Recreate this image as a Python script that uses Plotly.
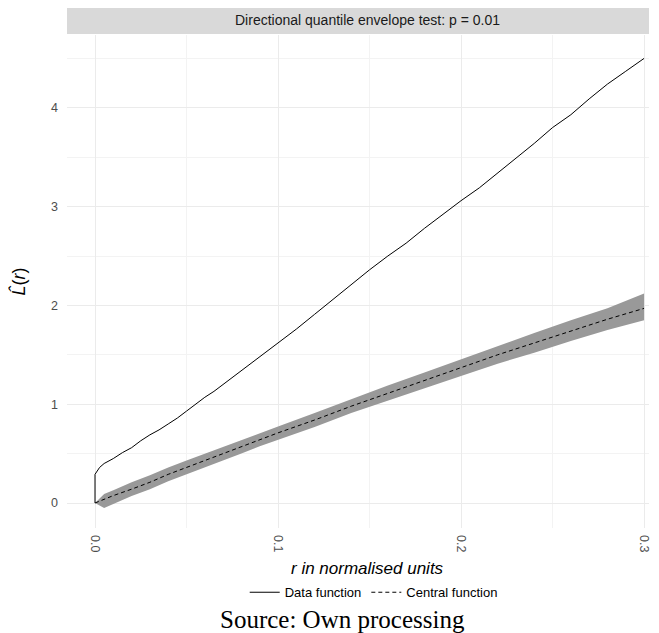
import plotly.graph_objects as go

# ---- data ----
r_data = [0, 0, 0.0025, 0.005, 0.01, 0.015, 0.02, 0.025, 0.03, 0.035, 0.04, 0.045,
          0.05, 0.055, 0.06, 0.065, 0.07, 0.075, 0.08, 0.085, 0.09, 0.095, 0.10,
          0.11, 0.12, 0.13, 0.14, 0.15, 0.16, 0.17, 0.18, 0.19, 0.20, 0.21, 0.22,
          0.23, 0.24, 0.25, 0.26, 0.27, 0.28, 0.29, 0.30]
L_data = [0, 0.29, 0.36, 0.40, 0.45, 0.51, 0.56, 0.63, 0.69, 0.74, 0.80, 0.86,
          0.93, 1.00, 1.07, 1.13, 1.20, 1.27, 1.34, 1.41, 1.48, 1.55, 1.62,
          1.76, 1.91, 2.06, 2.21, 2.36, 2.50, 2.63, 2.78, 2.92, 3.06, 3.19, 3.34,
          3.49, 3.64, 3.80, 3.93, 4.09, 4.24, 4.37, 4.50]

r_c = [0, 0.005, 0.01, 0.02, 0.03, 0.04, 0.05, 0.06, 0.07, 0.08, 0.09, 0.10,
       0.12, 0.14, 0.16, 0.18, 0.20, 0.22, 0.24, 0.26, 0.28, 0.30]
central = [0, 0.04, 0.075, 0.14, 0.21, 0.29, 0.36, 0.43, 0.50, 0.57, 0.64, 0.71,
           0.84, 0.98, 1.11, 1.24, 1.37, 1.50, 1.62, 1.74, 1.86, 1.97]
lo = [0, -0.05, -0.01, 0.07, 0.14, 0.22, 0.29, 0.36, 0.43, 0.50, 0.575, 0.645,
      0.77, 0.91, 1.03, 1.16, 1.285, 1.41, 1.52, 1.64, 1.75, 1.85]
hi = [0, 0.09, 0.13, 0.21, 0.28, 0.36, 0.43, 0.50, 0.57, 0.64, 0.705, 0.775,
      0.91, 1.05, 1.19, 1.32, 1.455, 1.59, 1.72, 1.85, 1.97, 2.12]

x_ticks = [0.0, 0.1, 0.2, 0.3]
x_ticklabels = ["0.0", "0.1", "0.2", "0.3"]
y_ticks = [0, 1, 2, 3, 4]

title_text = "Directional quantile envelope test: p = 0.01"

fig = go.Figure()
fig.add_trace(go.Scatter(x=r_c + r_c[::-1], y=hi + lo[::-1], fill="toself",
                         fillcolor="#999999", line=dict(width=0, color="#999999"),
                         mode="lines", showlegend=False, hoverinfo="skip"))
fig.add_trace(go.Scatter(x=r_data, y=L_data, mode="lines", name="Data function",
                         line=dict(color="black", width=1)))
fig.add_trace(go.Scatter(x=r_c, y=central, mode="lines", name="Central function",
                         line=dict(color="black", width=1, dash="4px,3px")))

grid = "#ebebeb"
fig.update_layout(
    width=659, height=633,
    margin=dict(l=59, r=18, t=27, b=113),
    plot_bgcolor="white", paper_bgcolor="white",
    font=dict(family="Liberation Sans, Arial", color="#4d4d4d", size=12.5),
    xaxis=dict(range=[-0.0153, 0.3027], tickvals=x_ticks, ticktext=x_ticklabels,
               tickangle=90, showgrid=True, gridcolor=grid, gridwidth=1, automargin=False,
               zeroline=False, showline=False, ticks="", ticklabelstandoff=6,
               minor=dict(dtick=0.05, tick0=0, showgrid=True, gridcolor="#f3f3f3", gridwidth=1)),
    yaxis=dict(range=[-0.253, 4.737], tickvals=y_ticks, showgrid=True, gridcolor=grid,
               gridwidth=1, zeroline=False, showline=False, ticks="", ticklabelstandoff=8,
               automargin=False,
               minor=dict(dtick=0.5, tick0=0, showgrid=True, gridcolor="#f3f3f3", gridwidth=1),
               title=dict(text="<i>L&#770;</i>(<i>r</i>)", font=dict(size=18, color="black"),
                          standoff=22)),
    legend=dict(orientation="h", x=0.527, xanchor="center", y=-0.100, yanchor="top",
                font=dict(size=13, color="black"), itemwidth=30, bgcolor="rgba(0,0,0,0)",
                tracegroupgap=0),
    shapes=[dict(type="rect", xref="paper", yref="paper", x0=0, x1=1, y0=1.002, y1=1.057,
                 fillcolor="#d9d9d9", line=dict(width=0), layer="below")],
    annotations=[
        dict(text=title_text, xref="paper", yref="paper", x=0.517, y=1.03, showarrow=False,
             xanchor="center", yanchor="middle", font=dict(size=14, color="#1a1a1a")),
        dict(text="<i>r in normalised units</i>", xref="paper", yref="paper", x=0.517,
             y=-0.083, showarrow=False, xanchor="center", yanchor="middle",
             font=dict(size=17, color="black")),
        dict(text="Source: Own processing", xref="paper", yref="paper", x=0.474,
             y=-0.186, showarrow=False, xanchor="center", yanchor="middle",
             font=dict(family="Liberation Serif, Times New Roman", size=25, color="black")),
    ],
)

fig.write_html("out.html")
